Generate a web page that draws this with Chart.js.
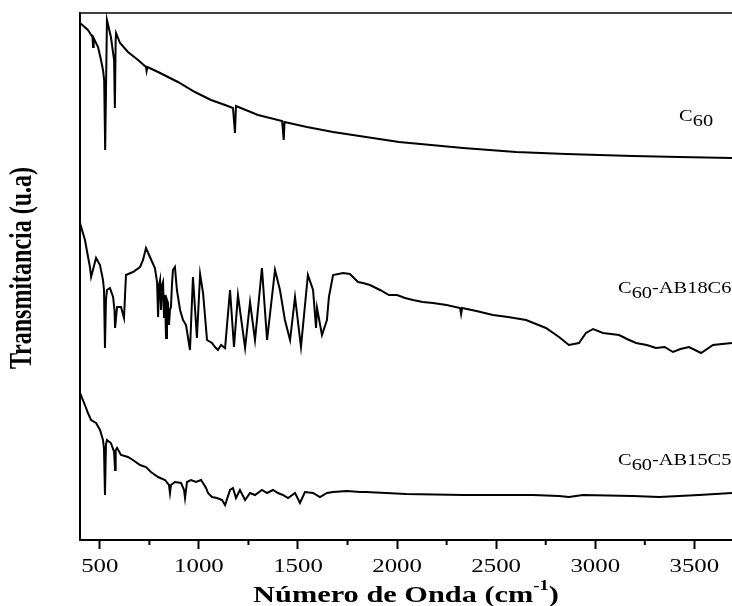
<!DOCTYPE html>
<html>
<head>
<meta charset="utf-8">
<script src="https://cdn.jsdelivr.net/npm/chart.js@4/dist/chart.umd.min.js"></script>
<style>
  body { margin: 0; background: #fff; }
</style>
</head>
<body>
<canvas id="chart" width="732" height="606"></canvas>
<script>
// wavenumbers (cm-1) and transmittance (arbitrary units)
const c60Wn = [400,440,463,466,469,491,506,516,522,527,536,556,572,576,580,582,602,642,693,733,736,740,794,894,980,1061,1132,1172,1182,1187,1298,1420,1428,1432,1545,1677,1843,2010,2333,2600,2852,3190,3423,3690];
const c60T = [517,510,503,493,502,493,480,470,460,390,520,503,480,432,500,507,497,488,480,473,469,473,468,458,448,440,435,432,407,434,425,419,400,418,413,408,403,398,392,388,386,384,383,382];

const ab18Wn = [400,425,450,456,481,501,516,521,526,531,536,551,567,574,577,587,607,622,632,667,703,718,733,753,778,789,794,799,804,809,814,819,824,829,834,839,844,849,854,859,864,869,879,889,905,920,935,955,970,990,1006,1021,1041,1066,1081,1096,1112,1132,1157,1177,1197,1233,1258,1283,1318,1344,1384,1409,1434,1460,1485,1515,1550,1576,1591,1596,1621,1646,1656,1677,1727,1762,1803,1828,1863,1914,1959,2000,2040,2080,2130,2181,2250,2318,2323,2328,2400,2484,2560,2651,2751,2817,2867,2918,2953,2989,3039,3080,3120,3160,3206,3260,3306,3350,3392,3430,3473,3534,3594,3640,3690];
const ab18T = [317,300,273,263,282,275,260,250,192,240,250,252,243,230,212,233,233,222,265,268,273,280,292,283,272,258,223,255,260,230,255,258,222,245,202,240,237,215,230,233,255,270,273,250,230,220,215,190,263,202,266,247,200,197,193,190,195,192,250,193,245,192,238,200,272,200,270,250,220,200,243,193,265,250,212,232,205,220,243,265,267,266,258,257,255,250,245,245,242,240,238,237,235,232,226,232,229,225,223,220,212,203,195,197,207,211,207,206,205,201,197,195,192,193,188,191,193,187,195,196,197];

const ab15Wn = [400,425,440,456,481,501,516,521,526,531,536,556,572,577,580,587,607,642,667,703,733,758,794,829,849,854,859,879,910,925,930,940,960,985,1011,1036,1046,1066,1091,1117,1132,1157,1172,1187,1207,1233,1258,1283,1318,1344,1374,1399,1424,1450,1485,1510,1535,1576,1611,1646,1677,1747,1813,1843,2045,2333,2686,2817,2867,2938,3190,3322,3523,3690];
const ab15T = [147,135,127,120,117,110,100,92,45,95,100,97,88,70,90,92,85,83,80,75,73,68,63,60,55,47,55,58,57,50,42,58,60,58,60,52,47,43,42,40,35,50,52,42,50,40,47,45,50,47,50,47,45,42,47,37,48,47,43,47,48,49,48,48,46,45,45,44,43,45,44,43,45,47];

const majorTicks = [500,1000,1500,2000,2500,3000,3500];
const tickLabels = ['500','1000','1500','2000','2500','3000','3500'];
const minorTicks = [750,1250,1750,2250,2750,3250];

const seriesNames = ['C60', 'C60-AB18C6', 'C60-AB15C5'];

const SERIF = '"Liberation Serif", "Times New Roman", serif';

function toPoints(xs, ys) {
    return xs.map((x, i) => ({x: x, y: ys[i]}));
}

function wideText(ctx, text, x, y, s) {
    ctx.save();
    ctx.translate(x, y);
    ctx.scale(s, 1);
    ctx.fillText(text, 0, 0);
    ctx.restore();
    return ctx.measureText(text).width * s;
}

// label like C60-AB18C6 with the 60 as a subscript
function seriesLabel(ctx, x, y, rest) {
    ctx.font = '17px ' + SERIF;
    ctx.textAlign = 'left';
    x += wideText(ctx, 'C', x, y, 1.2);
    x += wideText(ctx, '60', x, y + 5, 1.2);
    wideText(ctx, rest, x, y, 1.2);
}

const textLayer = {
    id: 'textLayer',
    afterDraw(chart) {
        const ctx = chart.ctx;
        const a = chart.chartArea;
        const xs = chart.scales.x;
        const ys = chart.scales.y;
        ctx.save();
        ctx.strokeStyle = '#000';
        ctx.fillStyle = '#000';

        ctx.lineWidth = 1.5;
        ctx.beginPath();
        ctx.moveTo(a.left, a.top);
        ctx.lineTo(a.right, a.top);
        ctx.stroke();

        ctx.lineWidth = 2;
        minorTicks.forEach(v => {
            const px = xs.getPixelForValue(v);
            ctx.beginPath();
            ctx.moveTo(px, a.bottom);
            ctx.lineTo(px, a.bottom + 5);
            ctx.stroke();
        });

        ctx.font = '18px ' + SERIF;
        ctx.textAlign = 'center';
        ctx.textBaseline = 'alphabetic';
        majorTicks.forEach((v, i) => wideText(ctx, tickLabels[i], xs.getPixelForValue(v), 572, 1.38));

        // series labels
        seriesLabel(ctx, xs.getPixelForValue(3423), ys.getPixelForValue(419), '');
        seriesLabel(ctx, xs.getPixelForValue(3115), ys.getPixelForValue(247), seriesNames[1].slice(3));
        seriesLabel(ctx, xs.getPixelForValue(3115), ys.getPixelForValue(75), seriesNames[2].slice(3));

        // x title with superscript
        ctx.textAlign = 'left';
        const s = 1.32;
        const main = 'Número de Onda (cm';
        ctx.font = 'bold 23px ' + SERIF;
        const w1 = ctx.measureText(main).width * s;
        const w3 = ctx.measureText(')').width * s;
        ctx.font = 'bold 14px ' + SERIF;
        const w2 = ctx.measureText('-1').width * s;
        let tx = (a.left + a.right) / 2 - (w1 + w2 + w3) / 2;
        ctx.font = 'bold 23px ' + SERIF;
        tx += wideText(ctx, main, tx, 602, s);
        ctx.font = 'bold 14px ' + SERIF;
        tx += wideText(ctx, '-1', tx, 590, s);
        ctx.font = 'bold 23px ' + SERIF;
        wideText(ctx, ')', tx, 602, s);

        // y title
        ctx.save();
        ctx.translate(23, 268);
        ctx.rotate(-Math.PI / 2);
        ctx.scale(1, 1.3);
        ctx.textAlign = 'center';
        ctx.textBaseline = 'middle';
        ctx.font = 'bold 24px ' + SERIF;
        ctx.fillText('Transmitancia (u.a)', 0, 0);
        ctx.restore();

        ctx.restore();
    }
};

const line = {borderColor: '#000', borderWidth: 2, pointRadius: 0, tension: 0, fill: false};

new Chart(document.querySelector('#chart'), {
    type: 'line',
    data: {
        datasets: [
            {label: seriesNames[0], data: toPoints(c60Wn, c60T), ...line},
            {label: seriesNames[1], data: toPoints(ab18Wn, ab18T), ...line},
            {label: seriesNames[2], data: toPoints(ab15Wn, ab15T), ...line}
        ]
    },
    options: {
        responsive: false,
        devicePixelRatio: 1,
        animation: false,
        layout: {padding: {left: 80, top: 13, right: 0, bottom: 0}},
        plugins: {legend: {display: false}, tooltip: {enabled: false}},
        scales: {
            x: {
                type: 'linear',
                min: 400,
                max: 3690,
                afterBuildTicks: s => { s.ticks = majorTicks.map(v => ({value: v})); },
                afterFit: s => { s.height = 66; },
                ticks: {display: false},
                grid: {drawOnChartArea: false, drawTicks: true, tickLength: 9, tickWidth: 2, tickColor: '#000'},
                border: {color: '#000', width: 2}
            },
            y: {
                min: 0,
                max: 527,
                afterFit: s => { s.width = 0; },
                ticks: {display: false},
                grid: {display: false},
                border: {color: '#000', width: 2}
            }
        }
    },
    plugins: [textLayer]
});
</script>
</body>
</html>
